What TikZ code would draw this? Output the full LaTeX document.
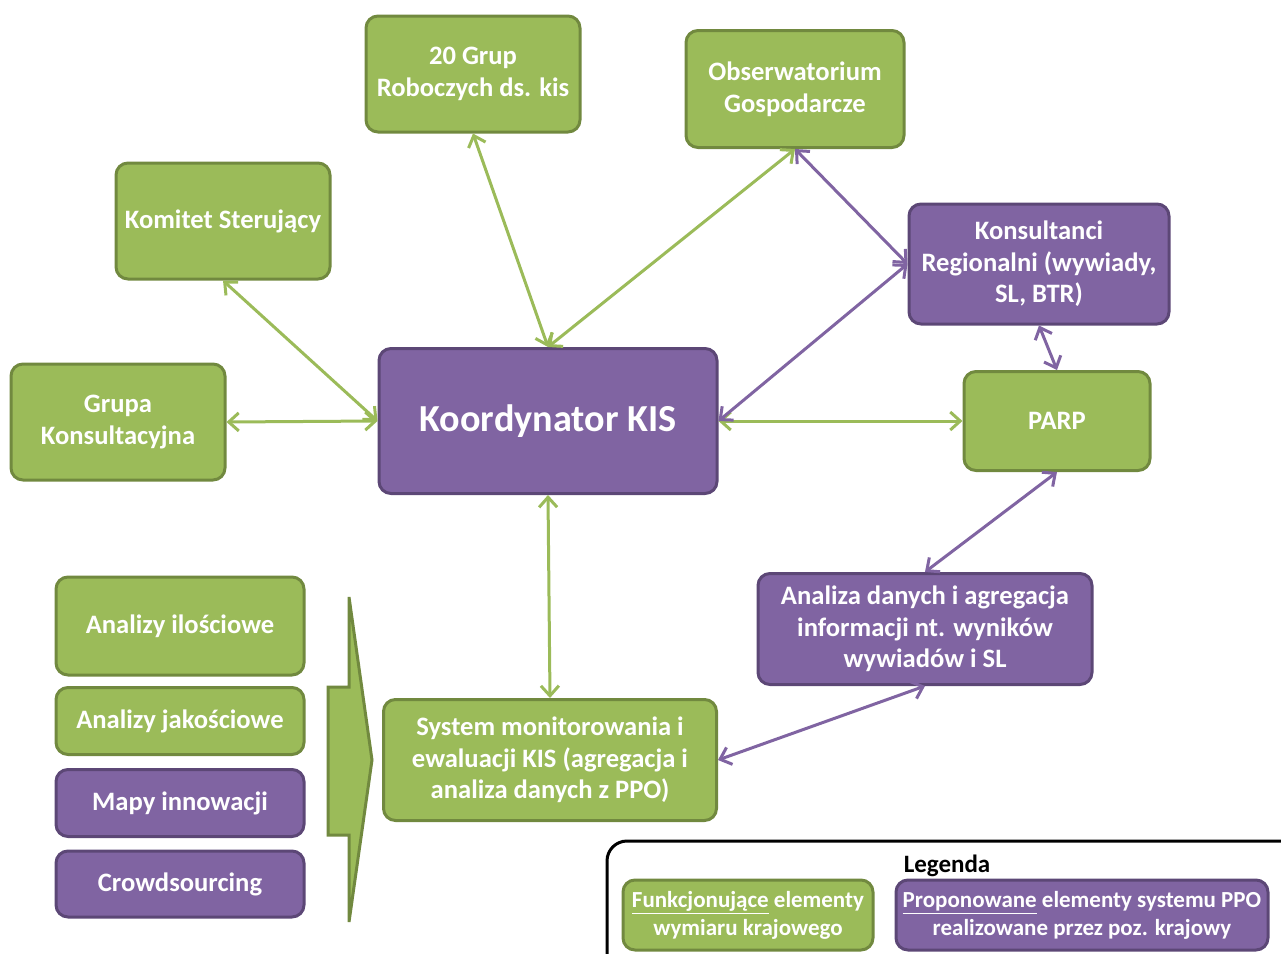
\documentclass[tikz,border=0pt]{standalone}
\usepackage{fontspec}
\setmainfont{Carlito}
\usetikzlibrary{arrows.meta,positioning}
\definecolor{BoxGreen}{HTML}{9BBB59}
\definecolor{EdgeGreen}{HTML}{71893F}
\definecolor{BoxPurple}{HTML}{8064A2}
\definecolor{EdgePurple}{HTML}{5C4776}

\begin{document}
\begin{tikzpicture}[x=0.5pt,y=-0.5pt,
  box/.style={rounded corners=6pt,line width=1.5pt,align=center,text=white,
    font=\bfseries\fontsize{13.3}{15.8}\selectfont,inner sep=0pt},
  gbox/.style={box,fill=BoxGreen,draw=EdgeGreen},
  pbox/.style={box,fill=BoxPurple,draw=EdgePurple},
  link/.style={{Straight Barb[length=5pt,width=9pt]}-{Straight Barb[length=5pt,width=9pt]},line width=1.5pt},
  glink/.style={link,draw=BoxGreen},
  plink/.style={link,draw=BoxPurple},
  legtext/.style={font=\bfseries\fontsize{11.5}{14}\selectfont}]
\useasboundingbox (0,0) rectangle (1281,954);

\node[gbox,minimum width=107pt,minimum height=58pt] (grupy) at (473,74) {20 Grup\\Roboczych ds. kis};
\node[gbox,minimum width=109pt,minimum height=58.5pt] (obs) at (795,89) {Obserwatorium\\Gospodarcze};
\node[gbox,minimum width=107pt,minimum height=58pt] (komitet) at (223,221) {Komitet Sterujący};
\node[pbox,minimum width=130pt,minimum height=60pt] (konsult) at (1039,264) {Konsultanci\\Regionalni (wywiady,\\SL, BTR)};
\node[gbox,minimum width=107pt,minimum height=58pt] (grupa) at (118,422) {Grupa\\Konsultacyjna};
\node[pbox,minimum width=169pt,minimum height=72.5pt,font=\bfseries\fontsize{19.1}{23}\selectfont] (koord) at (548,421) {Koordynator KIS};
\node[gbox,minimum width=93pt,minimum height=49.5pt] (parp) at (1057,421) {PARP};
\node[pbox,minimum width=167pt,minimum height=55.5pt] (analiza) at (925,629) {Analiza danych i agregacja\\informacji nt. wyników\\wywiadów i SL};
\node[gbox,minimum width=166.5pt,minimum height=60.5pt] (system) at (550,760) {System monitorowania i\\ewaluacji KIS (agregacja i\\analiza danych z PPO)};

\node[gbox,minimum width=124pt,minimum height=49pt] (ilosc) at (180,626) {Analizy ilościowe};
\node[gbox,minimum width=124pt,minimum height=33.5pt] (jakosc) at (180,721) {Analizy jakościowe};
\node[pbox,minimum width=124pt,minimum height=33.5pt] (mapy) at (180,803) {Mapy innowacji};
\node[pbox,minimum width=124pt,minimum height=33pt] (crowd) at (180,884) {Crowdsourcing};

\draw[fill=BoxGreen,draw=EdgeGreen,line width=1.5pt]
  (328,687) -- (349,687) -- (349,597) -- (372,760) -- (349,922) -- (349,835) -- (328,835) -- cycle;

% connectors
\draw[glink] (komitet.south) -- (koord.west);
\draw[glink] (grupy.south) -- (koord.north);
\draw[glink] (obs.south) -- (koord.north);
\draw[glink] (grupa.east) -- (koord.west);
\draw[glink] (koord.east) -- (parp.west);
\draw[glink] (koord.south) -- (system.north);
\draw[plink] (obs.south) -- (konsult.west);
\draw[plink] (koord.east) -- (konsult.west);
\draw[plink] (konsult.south) -- (parp.north);
\draw[plink] (parp.south) -- (analiza.north);
\draw[plink] (analiza.south) -- (system.east);

% legend
\draw[line width=1.5pt,rounded corners=10pt] (607,841) rectangle (1300,975);
\node[font=\bfseries\fontsize{12.5}{14}\selectfont] (legenda) at (947,866) {Legenda};
\node[gbox,legtext,minimum width=125pt,minimum height=35pt] (legfunk) at (748,915)
  {\underline{Funkcjonujące} elementy\\wymiaru krajowego};
\node[pbox,legtext,minimum width=186pt,minimum height=35pt] (legprop) at (1082,915)
  {\underline{Proponowane} elementy systemu PPO\\realizowane przez poz. krajowy};
\end{tikzpicture}
\end{document}
